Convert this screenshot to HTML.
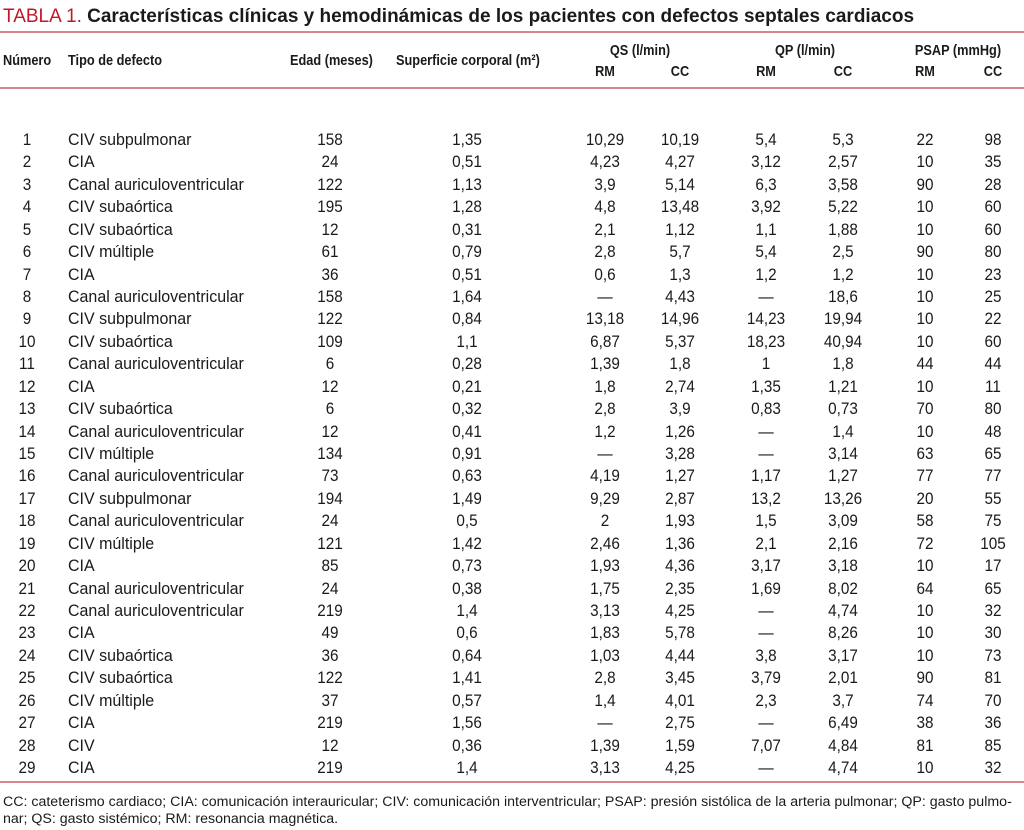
<!DOCTYPE html>
<html><head><meta charset="utf-8">
<style>
body{margin:0;width:1024px;height:830px;background:#fff;overflow:hidden;position:relative;font-family:"Liberation Sans",sans-serif;color:#1a1a1a}
.t{position:absolute;white-space:nowrap;line-height:1}
.c{transform:translateX(-50%) scaleX(0.9)}
.h{font-weight:bold;font-size:15px;transform-origin:0 0;transform:scaleX(0.85)}
.h.c{transform-origin:50% 0;transform:translateX(-50%) scaleX(0.85)}
.d{font-size:17px}
.l{transform-origin:0 0;transform:scaleX(0.94)}
.rule{position:absolute;left:0;width:1024px;height:2px;background:#d9868c}
</style></head><body>
<div class="t" style="left:3px;top:7px;font-size:19px;font-weight:bold;"><span style="color:#c0182a;font-weight:normal">TABLA 1.</span> Características clínicas y hemodinámicas de los pacientes con defectos septales cardiacos</div>
<div class="rule" style="top:31px"></div>
<div class="t h" style="left:3px;top:53px">Número</div>
<div class="t h" style="left:68px;top:53px">Tipo de defecto</div>
<div class="t h" style="left:290px;top:53px">Edad (meses)</div>
<div class="t h" style="left:396px;top:53px">Superficie corporal (m²)</div>
<div class="t h c" style="left:640px;top:43px">QS (l/min)</div>
<div class="t h c" style="left:805px;top:43px">QP (l/min)</div>
<div class="t h c" style="left:958px;top:43px">PSAP (mmHg)</div>
<div class="t h c" style="left:605px;top:64px">RM</div>
<div class="t h c" style="left:680px;top:64px">CC</div>
<div class="t h c" style="left:766px;top:64px">RM</div>
<div class="t h c" style="left:843px;top:64px">CC</div>
<div class="t h c" style="left:925px;top:64px">RM</div>
<div class="t h c" style="left:993px;top:64px">CC</div>
<div class="rule" style="top:87px"></div>
<div id="rows"></div>
<div class="rule" style="top:781px"></div>
<div class="t" style="left:3px;top:794px;font-size:14.2px;line-height:17px">CC: cateterismo cardiaco; CIA: comunicación interauricular; CIV: comunicación interventricular; PSAP: presión sistólica de la arteria pulmonar; QP: gasto pulmo-<br>nar; QS: gasto sistémico; RM: resonancia magnética.</div>
<script>
const tipos=["CIV subpulmonar","CIA","Canal auriculoventricular","CIV subaórtica","CIV subaórtica","CIV múltiple","CIA","Canal auriculoventricular","CIV subpulmonar","CIV subaórtica","Canal auriculoventricular","CIA","CIV subaórtica","Canal auriculoventricular","CIV múltiple","Canal auriculoventricular","CIV subpulmonar","Canal auriculoventricular","CIV múltiple","CIA","Canal auriculoventricular","Canal auriculoventricular","CIA","CIV subaórtica","CIV subaórtica","CIV múltiple","CIA","CIV","CIA"];
const edad=["158","24","122","195","12","61","36","158","122","109","6","12","6","12","134","73","194","24","121","85","24","219","49","36","122","37","219","12","219"];
const sup=["1,35","0,51","1,13","1,28","0,31","0,79","0,51","1,64","0,84","1,1","0,28","0,21","0,32","0,41","0,91","0,63","1,49","0,5","1,42","0,73","0,38","1,4","0,6","0,64","1,41","0,57","1,56","0,36","1,4"];
const qsRM=["10,29","4,23","3,9","4,8","2,1","2,8","0,6","—","13,18","6,87","1,39","1,8","2,8","1,2","—","4,19","9,29","2","2,46","1,93","1,75","3,13","1,83","1,03","2,8","1,4","—","1,39","3,13"];
const qsCC=["10,19","4,27","5,14","13,48","1,12","5,7","1,3","4,43","14,96","5,37","1,8","2,74","3,9","1,26","3,28","1,27","2,87","1,93","1,36","4,36","2,35","4,25","5,78","4,44","3,45","4,01","2,75","1,59","4,25"];
const qpRM=["5,4","3,12","6,3","3,92","1,1","5,4","1,2","—","14,23","18,23","1","1,35","0,83","—","—","1,17","13,2","1,5","2,1","3,17","1,69","—","—","3,8","3,79","2,3","—","7,07","—"];
const qpCC=["5,3","2,57","3,58","5,22","1,88","2,5","1,2","18,6","19,94","40,94","1,8","1,21","0,73","1,4","3,14","1,27","13,26","3,09","2,16","3,18","8,02","4,74","8,26","3,17","2,01","3,7","6,49","4,84","4,74"];
const psRM=["22","10","90","10","10","90","10","10","10","10","44","10","70","10","63","77","20","58","72","10","64","10","10","10","90","74","38","81","10"];
const psCC=["98","35","28","60","60","80","23","25","22","60","44","11","80","48","65","77","55","75","105","17","65","32","30","73","81","70","36","85","32"];
const rows=document.getElementById('rows');
const cols=[[null,27,'num'],[tipos,68,'tipo'],[edad,330,'edad'],[sup,467,'superficie'],[qsRM,605,'qs-rm'],[qsCC,680,'qs-cc'],[qpRM,766,'qp-rm'],[qpCC,843,'qp-cc'],[psRM,925,'psap-rm'],[psCC,993,'psap-cc']];
for(let i=0;i<tipos.length;i++){
  const y=131+i*22.43;
  cols.forEach(([arr,x,nm])=>{
    const el=document.createElement('div');
    el.className='t d'+(nm==='tipo'?' l':' c');
    el.style.left=x+'px';el.style.top=y+'px';
    el.textContent=arr?arr[i]:String(i+1);
    
    
    rows.appendChild(el);
  });
}
</script>
</body></html>
